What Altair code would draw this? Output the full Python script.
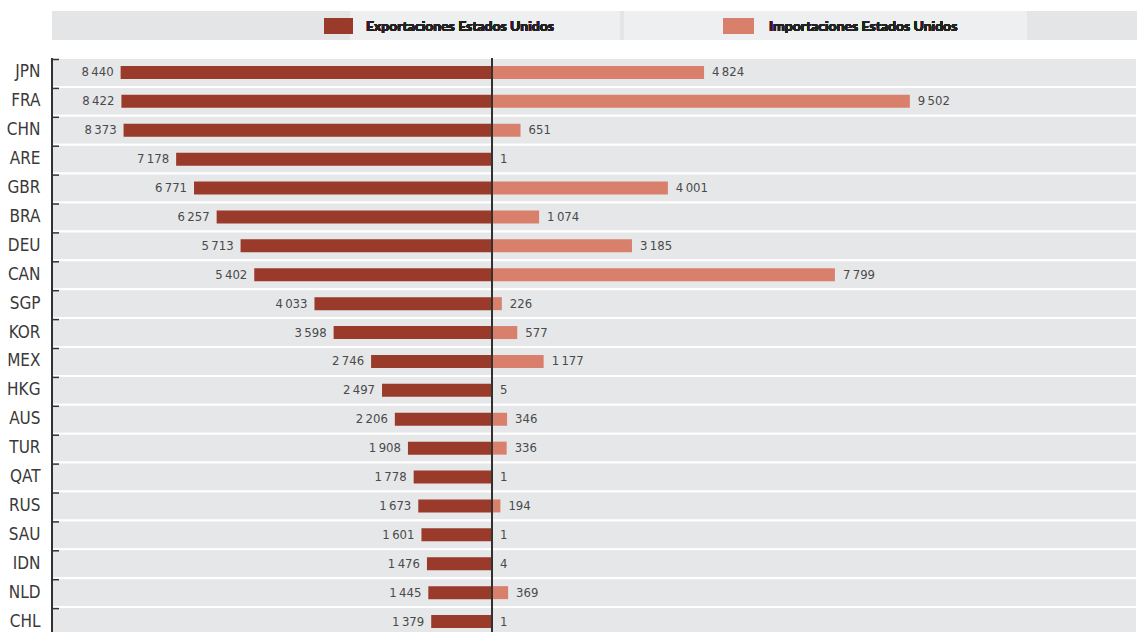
import altair as alt
import pandas as pd

countries = ["JPN", "FRA", "CHN", "ARE", "GBR", "BRA", "DEU", "CAN", "SGP", "KOR",
             "MEX", "HKG", "AUS", "TUR", "QAT", "RUS", "SAU", "IDN", "NLD", "CHL"]
exports = [8440, 8422, 8373, 7178, 6771, 6257, 5713, 5402, 4033, 3598,
           2746, 2497, 2206, 1908, 1778, 1673, 1601, 1476, 1445, 1379]
imports = [4824, 9502, 651, 1, 4001, 1074, 3185, 7799, 226, 577,
           1177, 5, 346, 336, 1, 194, 1, 4, 369, 1]
series = ["Exportaciones Estados Unidos", "Importaciones Estados Unidos"]
colors = ["#993a2b", "#d9806c"]


def fmt(v):
    return f"{v:,}".replace(",", "\u2009")


df_exp = pd.DataFrame({"country": countries, "value": [-v for v in exports],
                       "label": [fmt(v) for v in exports], "series": series[0]})
df_imp = pd.DataFrame({"country": countries, "value": imports,
                       "label": [fmt(v) for v in imports], "series": series[1]})
df_rows = pd.DataFrame({"country": countries})

W, H = 1085, 574
COND = "Liberation Sans Narrow, DejaVu Sans Condensed, Roboto Condensed, Roboto, sans-serif"

yscale = alt.Scale(domain=countries, range=[0, 578], paddingInner=0, paddingOuter=0)
xscale = alt.Scale(domain=[-10000, 14666], nice=False, zero=False)
yaxis = alt.Axis(title=None, domain=False, ticks=False, labelFontSize=17,
                 labelFont=COND, labelColor="#3a3a3a", labelPadding=12,
                 labelFontWeight="normal")

y_enc = alt.Y("country:N", scale=yscale, sort=countries, axis=yaxis)

rows = alt.Chart(df_rows).mark_rect(fill="#e6e7e9", stroke="white", strokeWidth=2).encode(
    y=y_enc, x=alt.value(0), x2=alt.value(W))

bar_exp = alt.Chart(df_exp).mark_bar(size=13, color=colors[0]).encode(
    y=y_enc, x=alt.X("value:Q", scale=xscale, axis=None))
bar_imp = alt.Chart(df_imp).mark_bar(size=13, color=colors[1]).encode(
    y=y_enc, x=alt.X("value:Q", scale=xscale, axis=None))

txt_exp = alt.Chart(df_exp).mark_text(align="right", dx=-7, fontSize=13, font=COND,
                                      color="#4a4a4a").encode(
    y=y_enc, x=alt.X("value:Q", scale=xscale, axis=None), text="label:N")
txt_imp = alt.Chart(df_imp).mark_text(align="left", dx=8, fontSize=13, font=COND,
                                      color="#4a4a4a").encode(
    y=y_enc, x=alt.X("value:Q", scale=xscale, axis=None), text="label:N")

center = alt.Chart(df_rows).mark_rule(color="#333333", strokeWidth=1.5).encode(
    x=alt.datum(0, scale=xscale, axis=None), y=alt.value(0), y2=alt.value(600))
axis_line = alt.Chart(df_rows).mark_rule(color="#333333", strokeWidth=1.5).encode(
    x=alt.value(0), y=alt.value(0), y2=alt.value(600))
ticks = alt.Chart(df_rows).mark_rule(color="#333333", strokeWidth=1.5).encode(
    y=alt.Y("country:N", scale=yscale, sort=countries, axis=yaxis, bandPosition=0),
    yOffset=alt.value(1.5),
    x=alt.value(0), x2=alt.value(7))

# legend strip
leg_band = alt.Chart(df_rows).mark_rect(fill="#e4e5e7").encode(
    x=alt.value(0), x2=alt.value(W), y=alt.value(-47), y2=alt.value(-18))
leg_box1 = alt.Chart(df_rows).mark_rect(fill="#eeeff0").encode(
    x=alt.value(298), x2=alt.value(568), y=alt.value(-47), y2=alt.value(-18))
leg_box2 = alt.Chart(df_rows).mark_rect(fill="#eeeff0").encode(
    x=alt.value(572), x2=alt.value(975), y=alt.value(-47), y2=alt.value(-18))
sw1 = alt.Chart(df_rows).mark_rect(fill=colors[0]).encode(
    x=alt.value(272), x2=alt.value(301), y=alt.value(-40), y2=alt.value(-24))
sw2 = alt.Chart(df_rows).mark_rect(fill=colors[1]).encode(
    x=alt.value(671), x2=alt.value(702), y=alt.value(-40), y2=alt.value(-24))
lt1 = alt.Chart(df_rows).mark_text(align="left", baseline="middle", font="Lato",
                                   fontWeight="bold", fontSize=14, color="#222222").encode(
    x=alt.value(314), y=alt.value(-31), text=alt.value(series[0]))
lt2 = alt.Chart(df_rows).mark_text(align="left", baseline="middle", font="Lato",
                                   fontWeight="bold", fontSize=14, color="#222222").encode(
    x=alt.value(717), y=alt.value(-31), text=alt.value(series[1]))

chart = alt.layer(
    leg_band, leg_box1, leg_box2, sw1, sw2, lt1, lt2,
    rows, bar_exp, bar_imp, txt_exp, txt_imp, center, axis_line, ticks
).properties(
    width=W, height=H,
    padding={"left": 52, "top": 58, "right": 0, "bottom": 0},
    autosize=alt.AutoSizeParams(type="none"),
    background="white",
).configure_view(stroke=None)

chart.save("out.html", embed_options={"renderer": "svg", "actions": False})
